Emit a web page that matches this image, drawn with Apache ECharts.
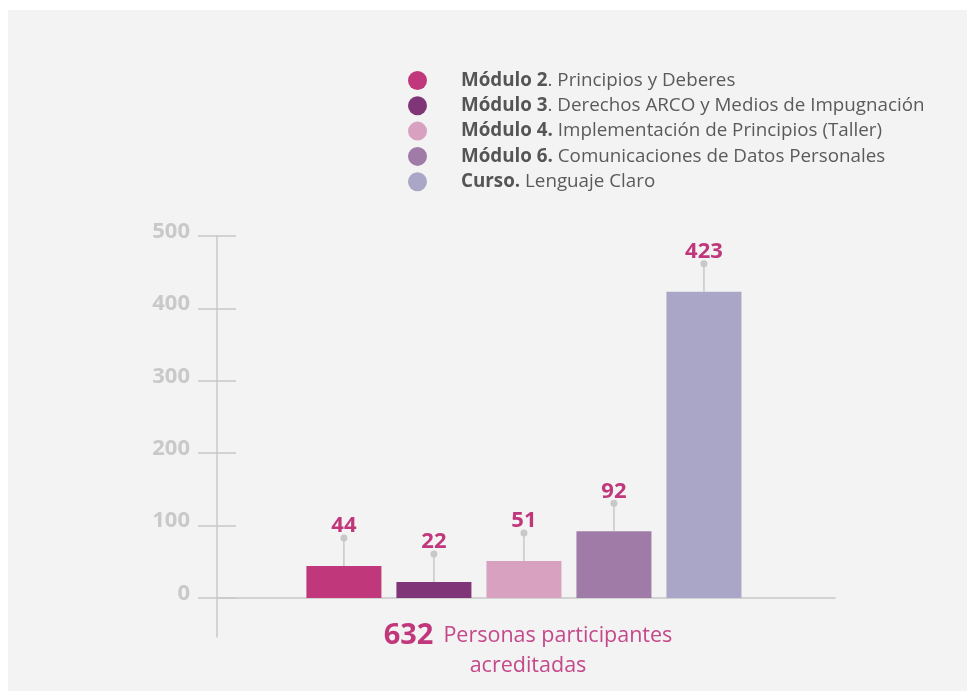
<!DOCTYPE html>
<html>
<head>
<meta charset="utf-8">
<script src="https://cdn.jsdelivr.net/npm/echarts@6/dist/echarts.min.js"></script>
<style>
  html, body { margin: 0; padding: 0; background: #ffffff; }
  #chart { width: 969px; height: 691px; }
</style>
</head>
<body>
<div id="chart"></div>
<script>
  // legend names: bold part + rest
  const moduleNames = ['Módulo 2', 'Módulo 3', 'Módulo 4.', 'Módulo 6.', 'Curso.'];
  const moduleTitles = ['. Principios y Deberes', '. Derechos ARCO y Medios de Impugnación', ' Implementación de Principios (Taller)', ' Comunicaciones de Datos Personales', ' Lenguaje Claro'];
  const participants = [44, 22, 51, 92, 423];
  const barColors = ['#c0377b', '#7f3578', '#d8a1c0', '#a07ba8', '#a9a6c7'];
  const yTicks = [0, 100, 200, 300, 400, 500];
  const totalPeople = 632;

  const font = '"Open Sans", sans-serif';
  const myChart = echarts.init(document.getElementById('chart'));

  const barSeries = moduleNames.map((name, i) => ({
    name: name,
    type: 'bar',
    barWidth: 75,
    barGap: '-100%',
    data: [[i, participants[i]]],
    itemStyle: { color: barColors[i] },
    silent: true
  }));

  const option = {
    backgroundColor: '#ffffff',
    animation: false,
    graphic: [
      {
        type: 'rect',
        z: -10,
        shape: { x: 8, y: 10, width: 959, height: 681 },
        style: { fill: '#f3f3f3' }
      },
      {
        type: 'text',
        x: 528,
        y: 621,
        style: {
          text: '{a|' + totalPeople + '}   {b|Personas participantes}\n{b|acreditadas}',
          align: 'center',
          rich: {
            a: { fontFamily: font, fontWeight: 'bold', fontSize: 29, fill: '#c0377b', lineHeight: 30 },
            b: { fontFamily: font, fontSize: 21.5, fill: '#c4488a', lineHeight: 30 }
          }
        }
      }
    ],
    legend: {
      orient: 'vertical',
      left: 403,
      top: 66,
      itemWidth: 19,
      itemHeight: 19,
      itemGap: 6.3,
      icon: 'circle',
      data: moduleNames,
      formatter: function (name) {
        const i = moduleNames.indexOf(name);
        return '{s|}{b|' + name + '}{r|' + moduleTitles[i] + '}';
      },
      textStyle: {
        rich: {
          s: { width: 29 },
          b: { fontFamily: font, fontWeight: 'bold', fontSize: 18.8, color: '#555555', lineHeight: 19 },
          r: { fontFamily: font, fontSize: 18.8, color: '#5a5a5a', lineHeight: 19 }
        }
      }
    },
    grid: {
      left: 217,
      right: 134,
      top: 236,
      bottom: 54
    },
    xAxis: {
      type: 'value',
      min: -1.41,
      max: 5.456,
      axisLine: { show: true, onZero: true, lineStyle: { color: '#c8c8c8', width: 1.5 } },
      axisTick: { show: false },
      axisLabel: { show: false },
      splitLine: { show: false }
    },
    yAxis: [
      {
        type: 'value',
        min: -54,
        max: 500,
        axisLine: { show: true, onZero: false, lineStyle: { color: '#c8c8c8', width: 1.5 } },
        axisTick: { show: true, length: 19, customValues: yTicks, lineStyle: { color: '#c8c8c8', width: 1.5 } },
        axisLabel: {
          customValues: yTicks,
          margin: 27,
          formatter: '{v|{value}}',
          rich: {
            v: {
              color: '#c9c9c9',
              fontFamily: font,
              fontWeight: 'bold',
              fontSize: 22,
              padding: [0, 0, 9, 0]
            }
          }
        },
        splitLine: { show: false }
      },
      {
        type: 'value',
        min: -54,
        max: 500,
        position: 'left',
        axisLine: { show: false, onZero: false },
        axisTick: { show: true, inside: true, length: 19, customValues: yTicks, lineStyle: { color: '#c8c8c8', width: 1.5 } },
        axisLabel: { show: false },
        splitLine: { show: false }
      }
    ],
    series: barSeries.concat([
      {
        type: 'custom',
        silent: true,
        data: participants.map((v, i) => [i, v]),
        z: 5,
        renderItem: function (params, api) {
          const v = api.value(1);
          const p = api.coord([api.value(0), v]);
          const dotY = p[1] - 28;
          return {
            type: 'group',
            children: [
              { type: 'line', shape: { x1: p[0], y1: p[1], x2: p[0], y2: dotY }, style: { stroke: '#c8c8c8', lineWidth: 1.5 } },
              { type: 'circle', shape: { cx: p[0], cy: dotY, r: 3.5 }, style: { fill: '#c8c8c8' } },
              {
                type: 'text',
                x: p[0],
                y: dotY - 12,
                style: {
                  text: String(v),
                  align: 'center',
                  verticalAlign: 'middle',
                  fill: '#c0377b',
                  font: 'bold 22px ' + font
                }
              }
            ]
          };
        }
      }
    ])
  };

  myChart.setOption(option);
</script>
</body>
</html>
